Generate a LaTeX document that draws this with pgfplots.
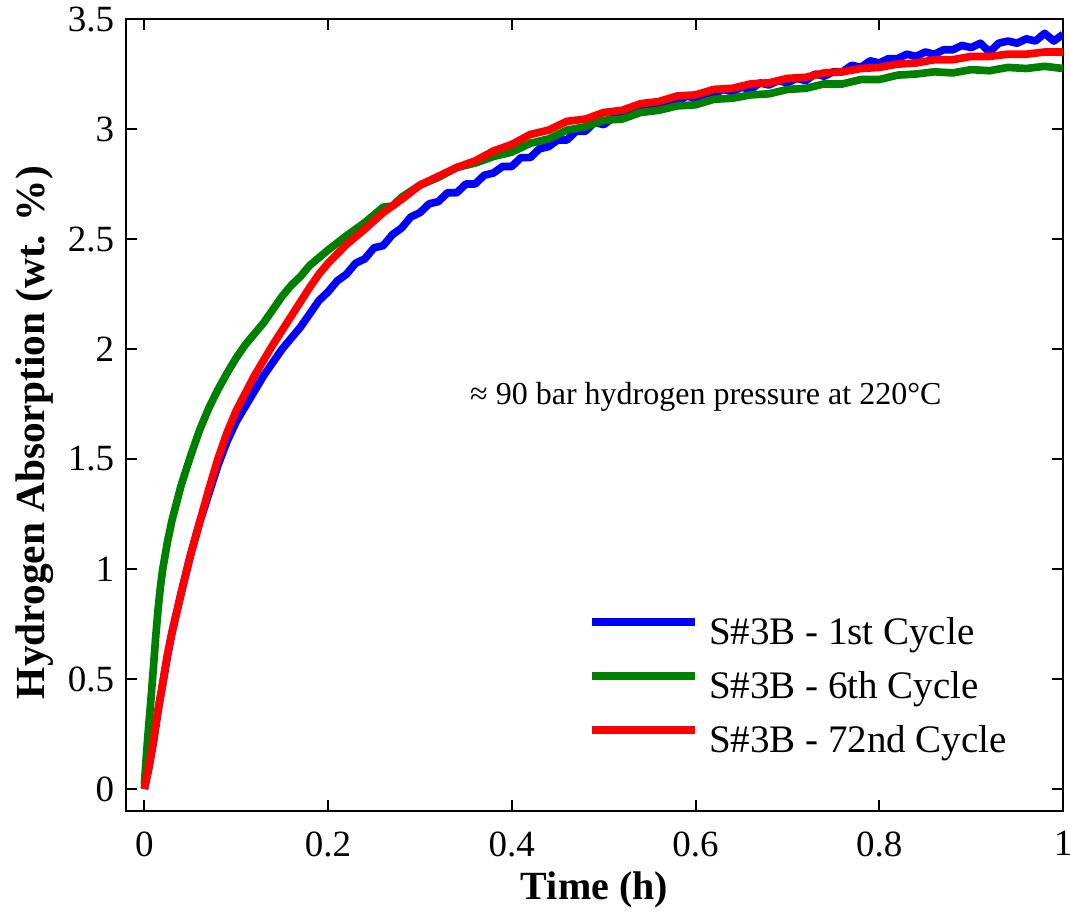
\documentclass[border=0pt]{standalone}
\usepackage{pgfplots}
\pgfplotsset{compat=1.18}
\usepackage{fontspec}
\setmainfont{Liberation Serif}
\definecolor{cblue}{RGB}{0,0,255}
\definecolor{cgreen}{RGB}{0,128,0}
\definecolor{cred}{RGB}{255,0,0}
\begin{document}
\begin{tikzpicture}
\useasboundingbox (-37.8pt,-30.9pt) rectangle (283.2pt,243.3pt);
\begin{axis}[
  at={(0,0)}, anchor=south west,
  scale only axis,
  width=281.1pt, height=237.6pt,
  xmin=-0.02, xmax=1, ymin=-0.1, ymax=3.5,
  xtick={0,0.2,0.4,0.6,0.8,1},
  ytick={0,0.5,1,1.5,2,2.5,3,3.5},
  tick align=inside,
  major tick length=3.3pt,
  every tick/.style={black, line width=0.6pt},
  axis line style={line width=0.6pt, black},
  /pgf/number format/assume math mode=true,
  tick label style={font=\fontsize{11.1}{13}\selectfont},
  xticklabel style={yshift=-2.6pt},
  xlabel={\textbf{Time (h)}},
  ylabel={\textbf{Hydrogen Absorption (wt. \%)}},
  xlabel style={font=\fontsize{12}{14}\selectfont, at={(axis description cs:0.5,-0.1)}, anchor=center},
  ylabel style={font=\fontsize{12.4}{14}\selectfont, at={(axis description cs:-0.097,0.478)}, anchor=center},
  legend style={at={(axis description cs:0.492,0.2466)}, anchor=north west,
    draw=none, fill=none, inner sep=0pt, row sep=5.2pt,
    font=\fontsize{11.7}{14}\selectfont,
    nodes={inner sep=0pt, text height=8.5pt, text depth=2.5pt},
    /tikz/every odd column/.append style={column sep=3pt}},
  legend cell align=left,
  legend image code/.code={\draw[#1, line width=2.4pt] (0pt,3.8pt) -- (31pt,3.8pt);},
  every axis plot/.append style={line width=2.3pt, line join=round},
]
% S#3B - 1st Cycle
\addplot[cblue] coordinates {
(0,0) (0.005,0.10) (0.01,0.22) (0.015,0.36) (0.02,0.48) (0.025,0.60) (0.03,0.71)
(0.04,0.89) (0.05,1.06) (0.06,1.21) (0.07,1.34) (0.08,1.47) (0.09,1.58) (0.10,1.67)
(0.11,1.74) (0.12,1.81) (0.13,1.88) (0.14,1.94) (0.15,2.00) (0.16,2.05) (0.17,2.10)
(0.18,2.16) (0.19,2.22) (0.20,2.26) (0.21,2.31) (0.22,2.34) (0.23,2.39) (0.24,2.41)
(0.25,2.46) (0.26,2.47) (0.27,2.52) (0.28,2.55) (0.29,2.60) (0.30,2.62) (0.31,2.66)
(0.32,2.67) (0.33,2.71) (0.34,2.71) (0.35,2.75) (0.36,2.75) (0.37,2.79) (0.38,2.80)
(0.39,2.83) (0.40,2.83) (0.41,2.87) (0.42,2.87) (0.43,2.91) (0.44,2.92) (0.45,2.95)
(0.46,2.95) (0.47,2.99) (0.48,2.99) (0.49,3.03) (0.50,3.02) (0.51,3.05) (0.52,3.05)
(0.53,3.08) (0.54,3.08) (0.55,3.11) (0.56,3.10) (0.57,3.13) (0.58,3.12) (0.59,3.15)
(0.60,3.14) (0.61,3.16) (0.62,3.16) (0.63,3.18) (0.64,3.17) (0.65,3.19) (0.66,3.18)
(0.67,3.21) (0.68,3.20) (0.69,3.22) (0.70,3.21) (0.71,3.23) (0.72,3.22) (0.73,3.25)
(0.74,3.24) (0.75,3.26) (0.76,3.26) (0.77,3.29) (0.78,3.28) (0.79,3.31) (0.80,3.30)
(0.81,3.32) (0.82,3.32) (0.83,3.34) (0.84,3.33) (0.85,3.35) (0.86,3.34) (0.87,3.36)
(0.88,3.36) (0.89,3.38) (0.90,3.37) (0.91,3.39) (0.92,3.35) (0.93,3.39) (0.94,3.40)
(0.95,3.39) (0.96,3.41) (0.97,3.40) (0.98,3.435) (0.99,3.40) (1.0,3.43)
};
\addlegendentry{S\#3B - 1st Cycle}
% S#3B - 6th Cycle
\addplot[cgreen] coordinates {
(0,0.02) (0.002,0.14) (0.004,0.25) (0.007,0.40) (0.01,0.56) (0.0125,0.70)
(0.015,0.82) (0.0175,0.92) (0.02,1.00) (0.025,1.12) (0.03,1.22) (0.035,1.30)
(0.04,1.38) (0.05,1.51) (0.06,1.63) (0.07,1.73) (0.08,1.815) (0.09,1.89) (0.10,1.96)
(0.11,2.02) (0.12,2.07) (0.13,2.12) (0.14,2.18) (0.15,2.24) (0.16,2.29)
(0.17,2.33) (0.18,2.38) (0.19,2.415) (0.20,2.45) (0.22,2.515) (0.24,2.575)
(0.26,2.645) (0.27,2.65) (0.28,2.69) (0.30,2.745) (0.32,2.78) (0.34,2.825)
(0.36,2.845) (0.38,2.875) (0.40,2.895) (0.42,2.935) (0.44,2.955) (0.46,2.995)
(0.48,3.01) (0.50,3.04) (0.52,3.045) (0.54,3.075) (0.56,3.085) (0.58,3.105)
(0.60,3.11) (0.62,3.135) (0.64,3.14) (0.66,3.155) (0.68,3.16) (0.70,3.18)
(0.72,3.185) (0.74,3.205) (0.76,3.205) (0.78,3.225) (0.80,3.225) (0.82,3.245)
(0.84,3.25) (0.86,3.26) (0.88,3.255) (0.90,3.27) (0.92,3.265) (0.94,3.28)
(0.96,3.275) (0.98,3.285) (1.0,3.275)
};
\addlegendentry{S\#3B - 6th Cycle}
% S#3B - 72nd Cycle
\addplot[cred] coordinates {
(0,0) (0.005,0.10) (0.01,0.22) (0.015,0.36) (0.02,0.48) (0.025,0.61) (0.03,0.71)
(0.04,0.89) (0.05,1.06) (0.06,1.21) (0.07,1.36) (0.08,1.50) (0.09,1.62) (0.10,1.72)
(0.11,1.80) (0.12,1.88) (0.13,1.95) (0.14,2.02) (0.15,2.085) (0.16,2.15) (0.17,2.215)
(0.18,2.28) (0.19,2.34) (0.20,2.39) (0.22,2.475) (0.24,2.545) (0.26,2.62)
(0.28,2.68) (0.30,2.745) (0.32,2.785) (0.34,2.825) (0.36,2.855) (0.38,2.90)
(0.40,2.93) (0.42,2.975) (0.44,2.995) (0.46,3.035) (0.48,3.045) (0.50,3.075)
(0.52,3.085) (0.54,3.115) (0.56,3.125) (0.58,3.15) (0.60,3.155) (0.62,3.18)
(0.64,3.185) (0.66,3.205) (0.68,3.21) (0.70,3.23) (0.72,3.235) (0.74,3.255)
(0.76,3.26) (0.78,3.275) (0.80,3.28) (0.82,3.295) (0.84,3.30) (0.86,3.315)
(0.88,3.315) (0.90,3.33) (0.92,3.33) (0.94,3.34) (0.96,3.34) (0.98,3.35) (1.0,3.35)
};
\addlegendentry{S\#3B - 72nd Cycle}
\node[anchor=base west, inner sep=0pt, font=\fontsize{9.6}{11}\selectfont]
  at (axis cs:0.354,1.746) {≈ 90 bar hydrogen pressure at 220°C};
\end{axis}
\end{tikzpicture}
\end{document}
